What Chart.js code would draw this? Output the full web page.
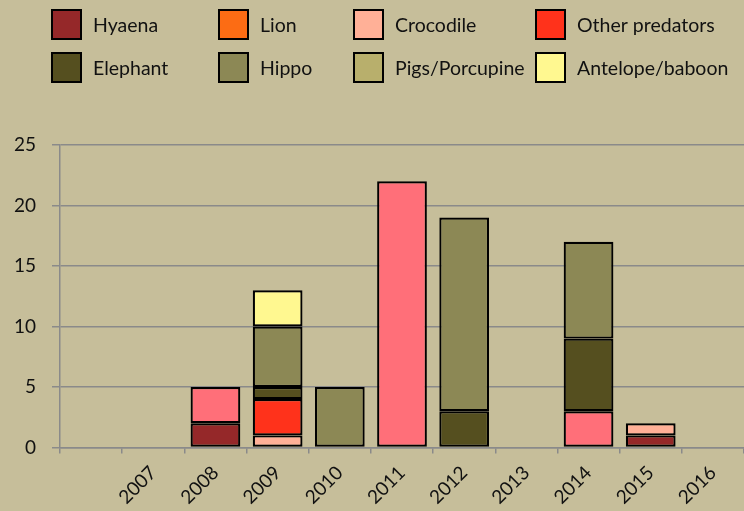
<!DOCTYPE html>
<html>
<head>
<meta charset="utf-8">
<script src="https://cdn.jsdelivr.net/npm/chart.js@4/dist/chart.umd.min.js"></script>
<style>
  html, body { margin: 0; padding: 0; background: #C6BE9A; }
  #wrap { width: 744px; height: 511px; }
</style>
</head>
<body>
<div id="wrap"><canvas id="c" width="744" height="511"></canvas></div>
<script>
// Years (first slot left blank on the axis)
const years = ['', '2007', '2008', '2009', '2010', '2011', '2012', '2013', '2014', '2015', '2016'];

// Counts per year by cause, bottom of each stack first
const hyaena        = [null, null, 2, null, null, null, null, null, null, 1, null];
const lion          = [null, null, null, null, null, null, null, null, null, null, null];
const crocodile     = [null, null, null, 1, null, null, null, null, null, 1, null];
const otherPred     = [null, null, null, 3, null, null, null, null, null, null, null];
const unidentified  = [null, null, 3, null, null, 22, null, null, 3, null, null];
const elephant      = [null, null, null, 1, null, null, 3, null, 6, null, null];
const hippo         = [null, null, null, 5, 5, null, 16, null, 8, null, null];
const pigsPorcupine = [null, null, null, null, null, null, null, null, null, null, null];
const antelope      = [null, null, null, 3, null, null, null, null, null, null, null];

const yTicks = [0, 5, 10, 15, 20, 25];

const FONT = 'Lato, "Open Sans", sans-serif';
const GRID = '#8a8a8a';

const series = [
  { label: 'Hyaena',          data: hyaena,        color: '#952829', legend: true },
  { label: 'Lion',            data: lion,          color: '#FC6C14', legend: true },
  { label: 'Crocodile',       data: crocodile,     color: '#FFB097', legend: true },
  { label: 'Other predators', data: otherPred,     color: '#FF321B', legend: true },
  { label: 'Unidentified',    data: unidentified,  color: '#FF6F79', legend: false },
  { label: 'Elephant',        data: elephant,      color: '#554F1F', legend: true },
  { label: 'Hippo',           data: hippo,         color: '#8C8855', legend: true },
  { label: 'Pigs/Porcupine',  data: pigsPorcupine, color: '#B8AF6C', legend: true },
  { label: 'Antelope/baboon', data: antelope,      color: '#FFF890', legend: true }
];

// Legend drawn as a 4 x 2 grid above the plot
const legendOrder = ['Hyaena', 'Lion', 'Crocodile', 'Other predators',
                     'Elephant', 'Hippo', 'Pigs/Porcupine', 'Antelope/baboon'];
const legendCols = [51, 218, 353, 535];
const legendRows = [9, 52];
const legendBox = 31;

const bgPlugin = {
  id: 'bg',
  beforeDraw(chart) {
    const ctx = chart.ctx;
    ctx.save();
    ctx.fillStyle = '#C6BE9A';
    ctx.fillRect(0, 0, chart.width, chart.height);
    ctx.restore();
  }
};

const gridLegend = {
  id: 'gridLegend',
  afterDraw(chart) {
    const ctx = chart.ctx;
    ctx.save();
    ctx.font = '19.5px ' + FONT;
    ctx.textBaseline = 'middle';
    ctx.textAlign = 'left';
    legendOrder.forEach((name, i) => {
      const s = series.find(d => d.label === name);
      const x = legendCols[i % 4];
      const y = legendRows[Math.floor(i / 4)];
      ctx.fillStyle = s.color;
      ctx.fillRect(x, y, legendBox, legendBox);
      ctx.lineWidth = 2;
      ctx.strokeStyle = '#000';
      ctx.strokeRect(x + 1, y + 1, legendBox - 2, legendBox - 2);
      ctx.fillStyle = '#111';
      ctx.fillText(name, x + legendBox + 11, y + legendBox / 2 + 1);
    });
    ctx.restore();
  }
};

new Chart(document.getElementById('c'), {
  type: 'bar',
  data: {
    labels: years,
    datasets: series.map(s => ({
      label: s.label,
      data: s.data,
      backgroundColor: s.color,
      borderColor: '#000',
      borderWidth: 2.2,
      borderSkipped: false,
      barPercentage: 0.8,
      categoryPercentage: 1.0
    }))
  },
  options: {
    responsive: false,
    animation: false,
    layout: { padding: { top: 145, right: 0, bottom: 0, left: 0 } },
    plugins: {
      legend: { display: false },
      tooltip: { enabled: false }
    },
    scales: {
      x: {
        stacked: true,
        afterFit(scale) { scale.height = 63.5; },
        grid: {
          drawOnChartArea: false,
          drawTicks: true,
          tickLength: 6,
          offset: true,
          color: GRID,
          lineWidth: 1.5
        },
        border: { display: true, color: GRID, width: 1.5 },
        ticks: {
          minRotation: 45,
          maxRotation: 45,
          autoSkip: false,
          padding: 8,
          color: '#111',
          font: { family: FONT, size: 19 }
        }
      },
      y: {
        stacked: true,
        min: yTicks[0],
        max: yTicks[yTicks.length - 1],
        afterFit(scale) { scale.width = 60; },
        afterBuildTicks(scale) { scale.ticks = yTicks.map(v => ({ value: v })); },
        grid: {
          color: GRID,
          lineWidth: 1.5,
          tickLength: 8,
          drawTicks: true
        },
        border: { display: true, color: GRID, width: 1.5 },
        ticks: {
          padding: 16,
          color: '#111',
          font: { family: FONT, size: 19 }
        }
      }
    }
  },
  plugins: [bgPlugin, gridLegend]
});
</script>
</body>
</html>
